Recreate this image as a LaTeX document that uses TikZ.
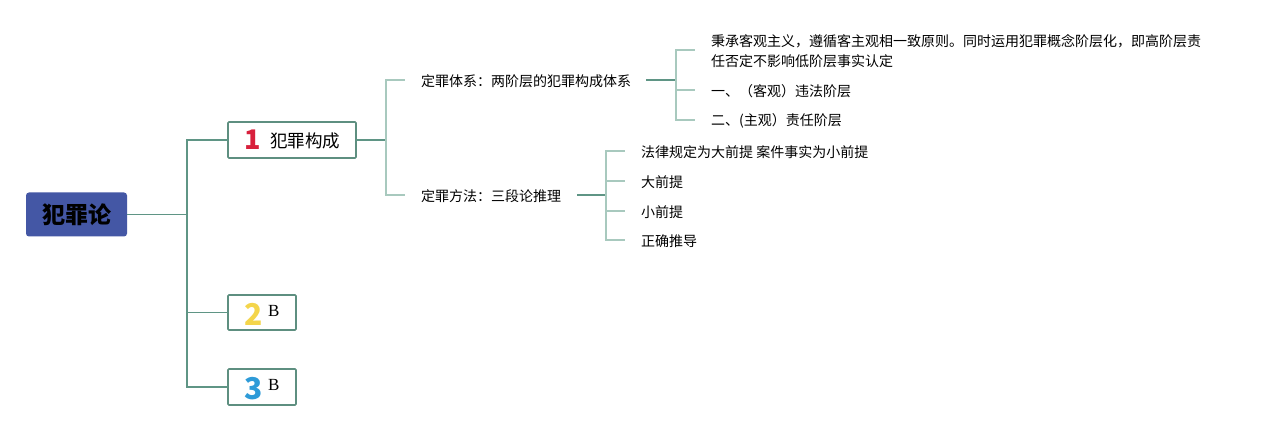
\documentclass[tikz,border=0pt]{standalone}
\usepackage{fontspec}
\setmainfont{Noto Sans CJK SC}
\newfontfamily\serifB{Liberation Serif}
\begin{document}
\begin{tikzpicture}[x=1pt,y=-1pt,
  mainline/.style={draw=lineDark,line width=1.3pt},
  subline/.style={draw=lineLight,line width=1.3pt},
  topicbox/.style={draw=boxBorder,line width=1.6pt,fill=white,rounded corners=1pt,inner sep=0pt,outer sep=0pt},
  leaf/.style={anchor=west,inner sep=0pt,font=\fontsize{14}{15}\selectfont,text=black},
  midleaf/.style={anchor=west,inner sep=0pt,font=\fontsize{14}{16}\selectfont,text=black},
  num/.style={font=\fontsize{30}{30}\selectfont\bfseries},
  bletter/.style={anchor=west,inner sep=0pt,font=\serifB\fontsize{17}{17}\selectfont},
]
\definecolor{lineDark}{HTML}{5F9585}
\definecolor{lineLight}{HTML}{A8C9BE}
\definecolor{boxBorder}{HTML}{5E8F80}
\definecolor{rootBlue}{HTML}{4457A5}
\definecolor{numRed}{HTML}{D8203C}
\definecolor{numYellow}{HTML}{F4D54B}
\definecolor{numBlue}{HTML}{2E9BD8}
\useasboundingbox (0,0) rectangle (1271,430);
\fill[white] (0,0) rectangle (1271,430);

% root
\node[fill=rootBlue,rounded corners=3pt,minimum width=101pt,minimum height=44pt,inner sep=0pt,outer sep=0pt,
  font=\fontsize{23}{23}\selectfont\bfseries] (root) at (76.5,214.5) {犯罪论};

% level-1 boxes
\node[topicbox,minimum width=128pt,minimum height=36pt] (b1) at (292,140) {};
\node[num,text=numRed,font=\fontsize{27}{27}\selectfont\bfseries] (n1) at (253,140) {1};
\node[anchor=west,inner sep=0pt,font=\fontsize{17.5}{17.5}\selectfont] (t1) at (270,141) {犯罪构成};

\node[topicbox,minimum width=68pt,minimum height=35pt] (b2) at (262,312.5) {};
\node[num,text=numYellow] (n2) at (254,314) {2};
\node[bletter] (t2) at (268,310.5) {B};

\node[topicbox,minimum width=68pt,minimum height=36pt] (b3) at (262,387) {};
\node[num,text=numBlue] (n3) at (254,388.5) {3};
\node[bletter] (t3) at (268,384.5) {B};

% trunk
\coordinate (j0) at (187,214.5);
\draw[mainline] (root.east) -- (j0);
\draw[mainline] (j0) |- (b1.west);
\draw[mainline] (j0) |- (b2.west);
\draw[mainline] (j0) |- (b3.west);

% level-2
\node[midleaf] (s1) at (421,81) {定罪体系：两阶层的犯罪构成体系};
\node[midleaf] (s2) at (421,196) {定罪方法：三段论推理};
\coordinate (j1) at (386,140);
\coordinate (e11) at (405,80);
\coordinate (e12) at (405,195);
\draw[mainline] (b1.east) -- (j1);
\draw[subline] (j1) |- (e11);
\draw[subline] (j1) |- (e12);

% level-3 under s1
\coordinate (a1) at (646,80);
\coordinate (j2) at (676,80);
\draw[mainline] (a1) -- (j2);
\coordinate (e21) at (695,50);
\coordinate (e22) at (695,90);
\coordinate (e23) at (695,120);
\draw[subline] (j2) |- (e21);
\draw[subline] (j2) |- (e22);
\draw[subline] (j2) |- (e23);
\node[leaf,align=left,font=\fontsize{14}{20}\selectfont] (l1) at (711,51) {秉承客观主义，遵循客主观相一致原则。同时运用犯罪概念阶层化，即高阶层责\\任否定不影响低阶层事实认定};
\node[leaf] (l2) at (711,91) {一、（客观）违法阶层};
\node[leaf] (l3) at (711,121) {二、(主观）责任阶层};

% level-3 under s2
\coordinate (a2) at (577,195);
\coordinate (j3) at (606,195);
\draw[mainline] (a2) -- (j3);
\coordinate (e31) at (625,151);
\coordinate (e32) at (625,181);
\coordinate (e33) at (625,211);
\coordinate (e34) at (625,240);
\draw[subline] (j3) |- (e31);
\draw[subline] (j3) |- (e32);
\draw[subline] (j3) |- (e33);
\draw[subline] (j3) |- (e34);
\node[leaf] (m1) at (641,152) {法律规定为大前提 案件事实为小前提};
\node[leaf] (m2) at (641,182) {大前提};
\node[leaf] (m3) at (641,212) {小前提};
\node[leaf] (m4) at (641,241) {正确推导};
\end{tikzpicture}
\end{document}
